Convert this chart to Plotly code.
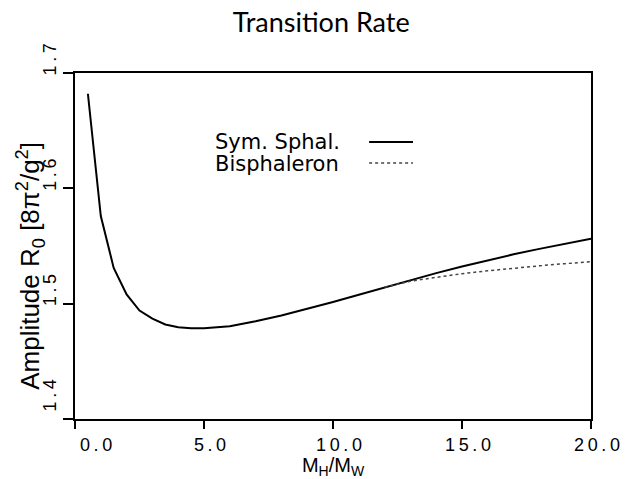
import plotly.graph_objects as go

# Data
x_sym = [0.5, 1.0, 1.5, 2.0, 2.5, 3.0, 3.5, 4.0, 4.5, 5.0, 6.0, 7.0, 8.0, 9.0, 10.0,
         11.0, 12.0, 13.0, 14.0, 15.0, 16.0, 17.0, 18.0, 19.0, 20.0]
y_sym = [1.682, 1.576, 1.531, 1.508, 1.494, 1.487, 1.482, 1.4795, 1.4786, 1.4787, 1.4805,
         1.4848, 1.4898, 1.4955, 1.5015, 1.5078, 1.5142, 1.5205, 1.5265, 1.5322, 1.5377,
         1.5428, 1.5475, 1.5520, 1.5563]
x_bis = [12.0, 13.0, 14.0, 15.0, 16.0, 17.0, 18.0, 19.0, 20.0]
y_bis = [1.5142, 1.5195, 1.5228, 1.5260, 1.5285, 1.5308, 1.5328, 1.5347, 1.5364]

x_ticks = [0, 5, 10, 15, 20]
x_ticklabels = ["0.0", "5.0", "10.0", "15.0", "20.0"]
y_ticks = [1.4, 1.5, 1.6, 1.7]
y_ticklabels = ["1.4", "1.5", "1.6", "1.7"]

SP = "\u2009"


def spaced(s):
    return SP.join(list(s))


x_text = [spaced(t) for t in x_ticklabels]
x_text[0] = "\u2007\u2007\u2007" + x_text[0]   # corner label sits right of its tick
y_text = [spaced(t) for t in y_ticklabels]
y_text[0] = "\u2007\u2007" + y_text[0]         # corner label sits above its tick

TITLE_FONT = "Lato, 'DejaVu Sans', sans-serif"
LEG_FONT = "'DejaVu Sans', sans-serif"
HELV = "'Liberation Sans', Arial, sans-serif"

fig = go.Figure()
fig.add_trace(go.Scatter(x=x_sym, y=y_sym, mode="lines",
                         line=dict(color="black", width=2), showlegend=False))
fig.add_trace(go.Scatter(x=x_bis, y=y_bis, mode="lines",
                         line=dict(color="#444444", width=1.5, dash="dot"), showlegend=False))

fig.update_layout(
    width=625, height=479,
    margin=dict(l=75, r=34, t=73, b=60),
    paper_bgcolor="white", plot_bgcolor="white",
    title=dict(text="Transition Rate", x=0.514, xanchor="center",
               y=1 - 23 / 479, yanchor="middle",
               font=dict(family=TITLE_FONT, size=27, color="black")),
    xaxis=dict(range=[0, 20], tickvals=x_ticks, ticktext=x_text,
               ticks="outside", ticklen=8, tickwidth=2, tickcolor="black",
               ticklabelshift=6,
               showline=True, linewidth=2, linecolor="black", mirror=True,
               showgrid=False, zeroline=False, automargin=False,
               tickfont=dict(family=HELV, size=18, color="black"),
               title=dict(text="M<sub>H</sub>/M<sub>W</sub>", standoff=8,
                          font=dict(family=HELV, size=20, color="black"))),
    yaxis=dict(range=[1.4, 1.7], tickvals=y_ticks, ticktext=y_text, tickangle=-90,
               ticks="outside", ticklen=10, tickwidth=2, tickcolor="black",
               ticklabelshift=-11,
               showline=True, linewidth=2, linecolor="black", mirror=True,
               showgrid=False, zeroline=False, automargin=False,
               tickfont=dict(family=HELV, size=18, color="black")),
)

# Y-axis title (placed as rotated text, slightly below centre as in the reference)
fig.add_annotation(x=-0.087, y=0.443, xref="paper", yref="paper",
                   text="Amplitude R<sub>0</sub> [8π<sup>2</sup>/g<sup>2</sup>]",
                   textangle=-90, showarrow=False, xanchor="center", yanchor="middle",
                   font=dict(family=HELV, size=26, color="black"))

# Legend drawn manually (text left, line sample right)
fig.add_annotation(x=0.2674, y=0.8006, xref="paper", yref="paper", text="Sym. Sphal.",
                   showarrow=False, xanchor="left", yanchor="middle",
                   font=dict(family=LEG_FONT, size=21, color="black"))
fig.add_annotation(x=0.2674, y=0.737, xref="paper", yref="paper", text="Bisphaleron",
                   showarrow=False, xanchor="left", yanchor="middle",
                   font=dict(family=LEG_FONT, size=21, color="black"))
fig.add_shape(type="line", xref="paper", yref="paper", x0=0.570, x1=0.655,
              y0=0.8006, y1=0.8006, line=dict(color="black", width=2))
fig.add_shape(type="line", xref="paper", yref="paper", x0=0.570, x1=0.655,
              y0=0.740, y1=0.740, line=dict(color="#444444", width=1.5, dash="dot"))

fig.write_html("out.html", config={"displayModeBar": False},
               post_script="document.body.style.margin='0';")
